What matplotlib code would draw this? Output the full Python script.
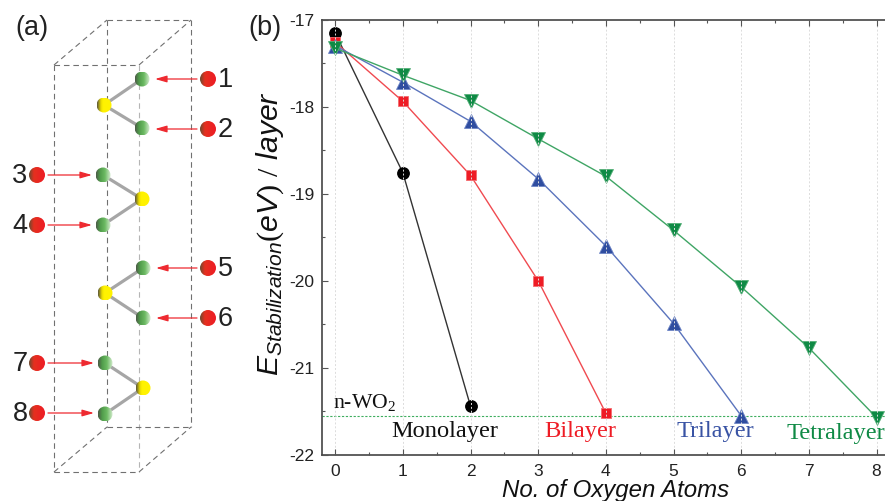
import matplotlib
matplotlib.use("Agg")
import matplotlib.pyplot as plt
from matplotlib.colors import LinearSegmentedColormap
import numpy as np
from matplotlib.patches import Circle

plt.rcParams['font.family'] = ['Liberation Sans', 'DejaVu Sans']
plt.rcParams['mathtext.fontset'] = 'custom'
plt.rcParams['mathtext.it'] = 'Liberation Sans:italic'
plt.rcParams['mathtext.rm'] = 'Liberation Serif'

# --- chart data
mono_x = [0, 1, 2]
mono_y = [-17.155, -18.76, -21.44]
bi_x = [0, 1, 2, 3, 4]
bi_y = [-17.26, -17.94, -18.79, -20.0, -21.52]
tri_x = [0, 1, 2, 3, 4, 5, 6]
tri_y = [-17.30, -17.72, -18.17, -18.83, -19.60, -20.49, -21.55]
tetra_x = [0, 1, 2, 3, 4, 5, 6, 7, 8]
tetra_y = [-17.33, -17.64, -17.93, -18.37, -18.80, -19.42, -20.07, -20.77, -21.57]
wo2_level = -21.555
x_ticks = [0, 1, 2, 3, 4, 5, 6, 7, 8]
y_ticks = [-17, -18, -19, -20, -21, -22]
series_names = ['Monolayer', 'Bilayer', 'Trilayer', 'Tetralayer']

# --- schematic data (pixel positions of the structure sketch)
green_atoms = [(142, 79), (142, 128), (103, 175), (103, 225), (143, 268), (143, 318), (105, 363), (105, 414)]
yellow_atoms = [(104, 105), (142, 199), (105, 293), (143, 388)]
red_atoms = [(208, 79), (208, 129), (37, 175), (37, 225), (208, 268), (208, 318), (37, 363), (37, 413)]
atom_labels = ['1', '2', '3', '4', '5', '6', '7', '8']
bonds = [(0, 0), (1, 0), (2, 1), (3, 1), (4, 2), (5, 2), (6, 3), (7, 3)]

W, H = 885, 501
fig = plt.figure(figsize=(W / 100, H / 100), dpi=100)

# --- overlay in pixel coordinates for panel (a)
ov = fig.add_axes([0, 0, 1, 1])
ov.patch.set_alpha(0)
ov.axis('off')

dash = dict(color='#707070', lw=0.8, ls=(0, (5, 3.5)), zorder=1)
fx0, fx1, fy0, fy1 = 54, 139, 65, 472
bx0, bx1, by0, by1 = 107, 191, 20, 427
ov.plot([fx0, fx1], [fy0, fy0], **dash)
ov.plot([fx0, fx1], [fy1, fy1], **dash)
ov.plot([fx0, fx0], [fy0, fy1], **dash)
ov.plot([fx1, fx1], [fy0, fy1], color='#b5b5b5', lw=0.8, ls=(0, (5, 3.5)), zorder=1)
ov.plot([bx0, bx1], [by0, by0], **dash)
ov.plot([bx0, bx1], [by1, by1], **dash)
ov.plot([bx0, bx0], [by0, by1], **dash)
ov.plot([bx1, bx1], [by0, by1], **dash)
ov.plot([fx0, bx0], [fy0, by0], **dash)
ov.plot([fx1, bx1], [fy0, by0], **dash)
ov.plot([fx0, bx0], [fy1, by1], **dash)
ov.plot([fx1, bx1], [fy1, by1], **dash)

for g, y in bonds:
    gx, gy = green_atoms[g]
    yx, yy = yellow_atoms[y]
    ov.plot([gx, yx], [gy, yy], color='#a6a6a6', lw=2.3, zorder=2, solid_capstyle='round')

green_map = LinearSegmentedColormap.from_list('g', [(0, '#4d5c48'), (0.25, '#4f9a4a'), (0.6, '#6cba62'), (1, '#d5ecd0')])
yellow_map = LinearSegmentedColormap.from_list('y', [(0, '#5f5a3a'), (0.25, '#e6d800'), (0.4, '#fff200'), (1, '#fff200')])
red_map = LinearSegmentedColormap.from_list('r', [(0, '#6e4a30'), (0.3, '#e5301f'), (1, '#ee1c25')])
grad = np.linspace(0, 1, 32).reshape(1, -1)


def sphere(x, y, r, cmap):
    im = ov.imshow(grad, cmap=cmap, extent=(x - r, x + r, y + r, y - r), aspect='auto',
                   interpolation='bilinear', zorder=3)
    patch = Circle((x, y), r, transform=ov.transData)
    im.set_clip_path(patch)


for x, y in green_atoms:
    sphere(x, y, 7.5, green_map)
for x, y in yellow_atoms:
    sphere(x, y, 7.5, yellow_map)
for x, y in red_atoms:
    sphere(x, y, 8, red_map)

ov.set_xlim(0, W)
ov.set_ylim(H, 0)

arrow_props = dict(arrowstyle='-|>,head_length=0.7,head_width=0.2', color='#ee2a30', lw=0.9, shrinkA=0, shrinkB=0)
for (x, y), lab, (gx, gy) in zip(red_atoms, atom_labels, green_atoms):
    if x > 100:
        ov.text(x + 17, y + 1, lab, fontsize=19.5, color='#222222', ha='center', va='center')
        ov.annotate('', xy=(gx + 13, y), xytext=(x - 11, y), arrowprops=arrow_props)
    else:
        ov.text(x - 17, y + 1, lab, fontsize=19.5, color='#222222', ha='center', va='center')
        ov.annotate('', xy=(gx - 11, y), xytext=(x + 11, y), arrowprops=arrow_props)

ov.text(32, 28, '(a)', fontsize=19.5, color='#222222', ha='center', va='center')
ov.text(265, 28, '(b)', fontsize=19.5, color='#222222', ha='center', va='center')

# --- panel (b)
left, right, top, bottom = 322, 885, 19.5, 455
ax = fig.add_axes([left / W, 1 - bottom / H, (right - left) / W, (bottom - top) / H])
ax.patch.set_alpha(0)
ax.set_xlim(-0.195, 8.125)
ax.set_ylim(-22, -17)

ax.axhline(wo2_level, color='#3fae5f', lw=0.8, ls=(0, (2, 1.5)), zorder=1)

ax.plot(mono_x, mono_y, '-', color='#333333', lw=1, marker='o', mfc='black', mec='black', ms=8.2, zorder=2.1)
ax.plot(bi_x, bi_y, '-', color='#f04a50', lw=1, marker='s', mfc='#ee1c25', mec='#f46a6e', mew=0.6, ms=7.6, zorder=2.2)
ax.plot(tri_x, tri_y, '-', color='#5b74bd', lw=1, marker='^', mfc='#2f4da0', mec='#6f86c6', mew=0.6, ms=9.8, zorder=2.3)
ax.plot(tetra_x, tetra_y, '-', color='#3fa565', lw=1, marker='v', mfc='#0f8a45', mec='#55b078', mew=0.6, ms=9.8, zorder=2.4)

ax.set_axisbelow(False)
ax.xaxis.grid(True, color='#dcdcdc', lw=0.7, ls=(0, (2, 2)))
ax.yaxis.grid(False)

ax.set_xticks(x_ticks)
ax.set_yticks(y_ticks)
ax.set_yticklabels([str(v) for v in y_ticks])
ax.set_xticks(np.arange(0.5, 8, 1), minor=True)
ax.set_yticks(np.arange(-21.5, -17, 1), minor=True)
ax.tick_params(axis='both', which='major', direction='in', length=4.5, width=0.8, color='#555555',
               top=True, labelsize=12.5, labelcolor='#222222', pad=6.5)
ax.tick_params(axis='both', which='minor', direction='in', length=2.5, width=0.8, color='#555555', top=True)
ax.tick_params(axis='y', which='major', pad=5.5)
for side in ('left', 'bottom', 'top'):
    ax.spines[side].set_linewidth(1.2)
    ax.spines[side].set_color('#444444')
ax.spines['right'].set_visible(False)

serif = 'Liberation Serif'
ov.text(364.5, 403, r'n-WO$_{\mathrm{2}}$', fontfamily=serif, fontsize=15.7, color='#111111', ha='center', va='center')
ov.text(445, 431, series_names[0], fontfamily=serif, fontsize=17.6, color='#111111', ha='center', va='center')
ov.text(580.5, 431, series_names[1], fontfamily=serif, fontsize=17.6, color='#ee1c25', ha='center', va='center')
ov.text(715, 432, series_names[2], fontfamily=serif, fontsize=17.6, color='#3953a4', ha='center', va='center')
ov.text(836, 433, series_names[3], fontfamily=serif, fontsize=17.6, color='#0f8a45', ha='center', va='center')

ov.text(615.5, 490, 'No. of Oxygen Atoms', fontsize=17.3, fontstyle='italic', color='#111111', ha='center', va='center')
ov.text(270, 234, r'$\mathit{E}_{\mathit{Stabilization}}\mathit{(eV)\ /\ layer}$',
        fontsize=21.7, color='#111111', rotation=90, ha='center', va='center')
ov.set_zorder(ax.get_zorder() + 1)

fig.savefig('out.png', dpi=100)
